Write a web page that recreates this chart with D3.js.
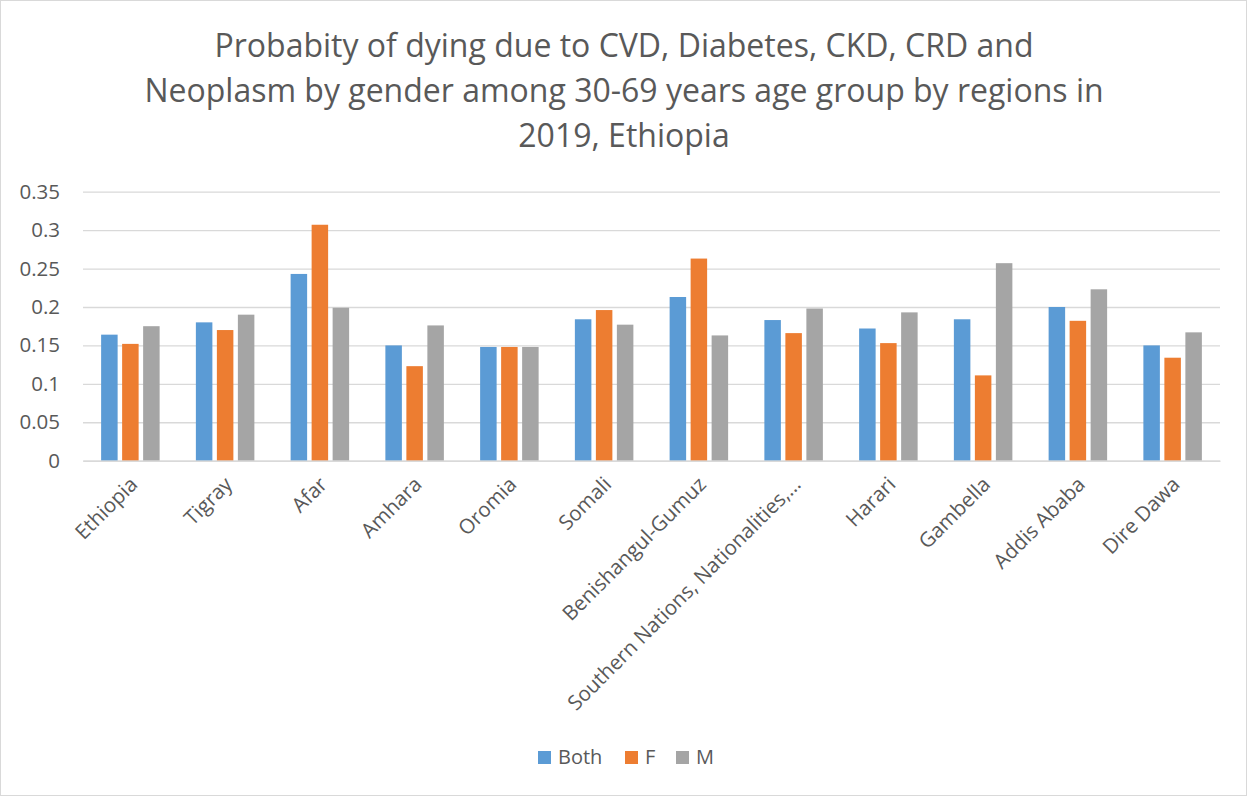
<!DOCTYPE html>
<html><head><meta charset="utf-8">
<script src="https://cdn.jsdelivr.net/npm/d3@7"></script>
<style>body{margin:0;background:#fff}svg{display:block;font-family:"Open Sans",sans-serif}</style>
</head><body>
<svg id="c" width="1247" height="796"></svg>
<script>
const categories = ["Ethiopia","Tigray","Afar","Amhara","Oromia","Somali","Benishangul-Gumuz","Southern Nations, Nationalities,…","Harari","Gambella","Addis Ababa","Dire Dawa"];
const seriesNames = ["Both","F","M"];
const both = [0.164,0.180,0.243,0.150,0.148,0.184,0.213,0.183,0.172,0.184,0.200,0.150];
const female = [0.152,0.170,0.307,0.123,0.148,0.196,0.263,0.166,0.153,0.111,0.182,0.134];
const male = [0.175,0.190,0.199,0.176,0.148,0.177,0.163,0.198,0.193,0.257,0.223,0.167];
const yTicks = [0,0.05,0.1,0.15,0.2,0.25,0.3,0.35];
const yTickLabels = ["0","0.05","0.1","0.15","0.2","0.25","0.3","0.35"];
const titleLines = ["Probabity of dying due to CVD, Diabetes, CKD, CRD and","Neoplasm by gender among 30-69 years age group by regions in","2019, Ethiopia"];
const colors = ["#5B9BD5","#ED7D31","#A5A5A5"];
const seriesData = [both, female, male];

const svg = d3.select("#c");
const W = 1247, H = 796;
svg.append("rect").attr("x",0.5).attr("y",0.5).attr("width",W-1).attr("height",H-1).attr("fill","#fff").attr("stroke","#d9d9d9");

const m = {left:83, right:1220, top:191.7, bottom:460.7};
const x = d3.scaleBand().domain(categories).range([m.left, m.right]).padding(0);
const y = d3.scaleLinear().domain([0,0.35]).range([m.bottom, m.top]);
const groupW = 3*21-4.5;
const xs = d3.scaleBand().domain(seriesNames).range([0, groupW]).paddingInner(4.5/21);

// title
const t = svg.append("text").attr("text-anchor","middle").attr("fill","#595959").attr("font-size",32);
titleLines.forEach((l,i)=> t.append("tspan").attr("x",624).attr("y",56.7+i*45).text(l));

// grid
const gy = svg.append("g").attr("transform",`translate(${m.left},0)`)
  .call(d3.axisLeft(y).tickValues(yTicks).tickSize(-(m.right-m.left)).tickFormat((d,i)=>yTickLabels[i]));
gy.select(".domain").remove();
gy.selectAll(".tick line").attr("stroke","#d9d9d9").attr("stroke-width",1.3);
gy.selectAll(".tick text").attr("fill","#595959").attr("font-size",20.5).attr("x",-23).attr("font-family","Open Sans");

// bars
seriesData.forEach((vals, si)=>{
  svg.append("g").selectAll("rect").data(vals).join("rect")
    .attr("x",(d,i)=> x(categories[i]) + (x.bandwidth()-groupW)/2 + xs(seriesNames[si]))
    .attr("y",d=>y(d)).attr("width",xs.bandwidth()).attr("height",d=>y(0)-y(d))
    .attr("fill",colors[si]);
});

// x axis
const gx = svg.append("g").attr("transform",`translate(0,${m.bottom})`)
  .call(d3.axisBottom(x).tickSize(0).tickSizeOuter(0));
gx.select(".domain").attr("stroke","#d9d9d9").attr("stroke-width",1.5);
gx.selectAll(".tick text").attr("fill","#595959").attr("font-size",20.5).attr("font-family","Open Sans")
  .attr("text-anchor","end").attr("dy",0).attr("y",0)
  .attr("transform","translate(8.5,25) rotate(-45)");

// legend
const leg = svg.append("g");
const legX = [538,625,676];
seriesNames.forEach((s,i)=>{
  leg.append("rect").attr("x",legX[i]).attr("y",751).attr("width",13).attr("height",13).attr("fill",colors[i]);
  leg.append("text").attr("x",legX[i]+20).attr("y",764).attr("fill","#595959").attr("font-size",20).text(s);
});
</script>
</body></html>
